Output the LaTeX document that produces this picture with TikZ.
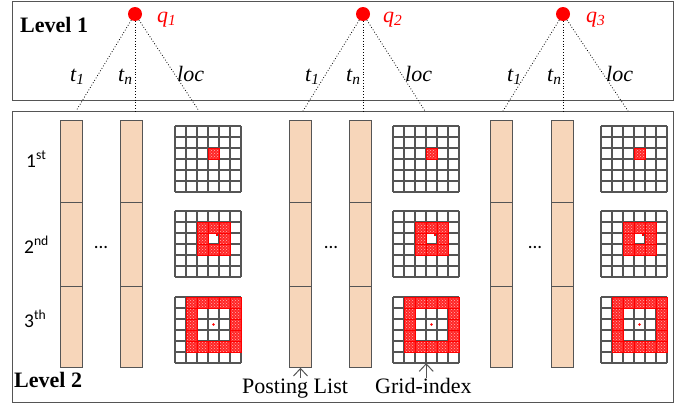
\documentclass[tikz,border=0pt]{standalone}
\usepackage{fontspec}
\setmainfont{Liberation Serif}
\newfontfamily\carlito{Carlito}
\usetikzlibrary{arrows.meta,patterns}
\definecolor{boxgray}{RGB}{85,85,85}
\definecolor{peach}{RGB}{247,214,186}
\begin{document}
\begin{tikzpicture}[x=1pt,y=-1pt,
  frame/.style={draw=boxgray,line width=1.4pt,inner sep=0pt,anchor=north west},
  bar/.style={draw=boxgray,fill=peach,line width=1pt,inner sep=0pt,anchor=north west,minimum width=22pt},
  gridline/.style={draw=boxgray,line width=1.1pt},
  hot/.style={fill=red!85,draw=red,line width=1pt},
  hotpat/.style={pattern=crosshatch dots,pattern color=red!30},
  link/.style={dotted,line width=0.8pt},
  qdot/.style={circle,fill=red,inner sep=0pt,minimum size=14pt},
  qlab/.style={text=red,font=\fontsize{22}{22}\selectfont\itshape,anchor=base west,inner sep=0pt},
  elab/.style={font=\fontsize{22}{22}\selectfont\itshape,anchor=base west,inner sep=0pt},
  lvl/.style={font=\fontsize{22}{22}\selectfont\bfseries,anchor=base west,inner sep=0pt},
  rowlab/.style={font=\carlito\fontsize{19.5}{19.5}\selectfont,anchor=base west,inner sep=0pt},
  captext/.style={font=\fontsize{22}{22}\selectfont,anchor=base west,inner sep=0pt},
  pointer/.style={line width=1pt,draw=boxgray},
  chevron/.style={line width=1pt,draw=boxgray,line join=miter}
]
\useasboundingbox (0,0) rectangle (695,407);
\node[frame,minimum width=661pt,minimum height=99pt] (L1) at (12,1) {};
\node[frame,minimum width=661pt,minimum height=291pt] (L2) at (12,111) {};
\node[lvl] (lv1) at (20,32) {Level 1};
\node[lvl] (lv2) at (14,387) {Level 2};
\node[rowlab] (r1) at (26,167) {1\textsuperscript{st}};
\node[rowlab] (r2) at (24,253) {2\textsuperscript{nd}};
\node[rowlab] (r3) at (24,327) {3\textsuperscript{th}};
\foreach \g/\dx/\ba/\bb/\gx/\te/\le/\dotsx/\tlx/\tnx/\lcx/\qx in
  {1/135/60/120/175/76/199/101/70/118/177/157,
   2/363/289/349/393/303/425/331/305/346/405/383,
   3/563/490/551/601/503/628/535/507/547/606/586}{
  \node[qdot] (q\g) at (\dx,14) {};
  \node[qlab] (ql\g) at (\qx,22) {q\textsubscript{\g}};
  \coordinate (ea\g) at (\te,111);
  \coordinate (eb\g) at (\dx,111);
  \coordinate (ec\g) at (\le,111);
  \draw[link] (q\g) -- (ea\g);
  \draw[link] (q\g) -- (eb\g);
  \draw[link] (q\g) -- (ec\g);
  \node[elab] (ta\g) at (\tlx,81) {t\textsubscript{1}};
  \node[elab] (tb\g) at (\tnx,81) {t\textsubscript{n}};
  \node[elab] (tc\g) at (\lcx,81) {loc};
  \foreach \s/\top/\h in {1/120/82,2/202/84,3/286/81}{
    \node[bar,minimum height=\h pt] (pa\g-\s) at (\ba,\top) {};
    \node[bar,minimum height=\h pt] (pb\g-\s) at (\bb,\top) {};
  }
  \node[font=\carlito\fontsize{19}{19}\selectfont,inner sep=0pt] (dots\g) at (\dotsx,247) {...};
  \foreach \k/\top in {1/126,2/211,3/297}{
    \node[inner sep=0pt,minimum size=66pt,anchor=north west] (G\g-\k) at (\gx,\top) {};
    \foreach \i in {0,...,6}{
      \draw[gridline] (\gx+11*\i,\top) -- ++(0,66);
      \draw[gridline] (\gx,\top+11*\i) -- ++(66,0);
    }
    \foreach \c in {0,...,5}{
      \foreach \r in {0,...,5}{
        \pgfmathtruncatemacro\dd{max(abs(\c-3),abs(\r-2))}
        \pgfmathtruncatemacro\want{\k-1}
        \ifnum\dd=\want
          \filldraw[hot] (\gx+11*\c,\top+11*\r) rectangle ++(11,11);
          \fill[hotpat] (\gx+11*\c+1,\top+11*\r+1) rectangle ++(9,9);
        \fi
      }
    }
  }
  \fill[red] (\gx+38.5,297+27.5) circle (1.3);
  \fill[red] (\gx+41,211+23) rectangle ++(2,2);
}
\node[captext] (PL) at (242,393) {Posting List};
\node[captext] (GI) at (375,393) {Grid-index};
\draw[pointer] (pa2-3.south |- PL.north) -- (pa2-3.south);
\draw[chevron] ([shift={(-7,8)}]pa2-3.south) -- ([yshift=-0.5pt]pa2-3.south) -- ([shift={(7,8)}]pa2-3.south);
\draw[pointer] (G2-3.south |- GI.north) -- (G2-3.south);
\draw[chevron] ([shift={(-7,8)}]G2-3.south) -- ([yshift=-0.5pt]G2-3.south) -- ([shift={(7,8)}]G2-3.south);
\end{tikzpicture}
\end{document}
